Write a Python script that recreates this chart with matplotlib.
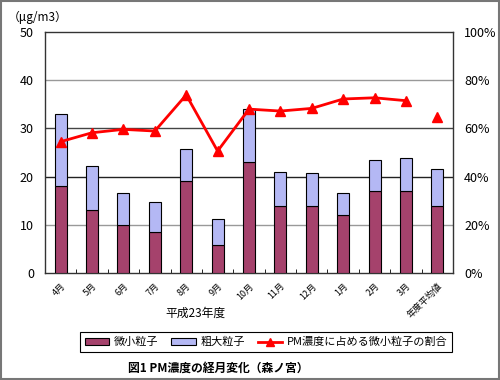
import numpy as np
import matplotlib.pyplot as plt
from matplotlib.patches import Rectangle, Patch
from matplotlib.lines import Line2D

plt.rcParams['font.family'] = ['Noto Sans CJK JP', 'DejaVu Sans']

# データ
months = ['4月', '5月', '6月', '7月', '8月', '9月', '10月', '11月', '12月',
          '1月', '2月', '3月', '年度平均値']
fine = [18.0, 13.0, 10.0, 8.6, 19.0, 5.8, 23.0, 14.0, 14.0, 12.0, 17.0, 17.0, 14.0]
total = [33.0, 22.3, 16.6, 14.7, 25.7, 11.3, 34.1, 20.9, 20.7, 16.5, 23.4, 23.9, 21.6]
ratio = [54.5, 58.2, 59.6, 58.9, 73.9, 50.6, 68.0, 67.2, 68.3, 72.2, 72.7, 71.5, 64.9]

coarse = [t - f for t, f in zip(total, fine)]
x = np.arange(len(months))

fig = plt.figure(figsize=(5, 3.8), dpi=100)
ax = fig.add_axes([0.09, 0.2816, 0.816, 0.6342])

# 棒グラフ（積み上げ）
ax.bar(x, fine, width=0.38, color='#a5426c', edgecolor='black', linewidth=0.8, zorder=3)
ax.bar(x, coarse, width=0.38, bottom=fine, color='#b4b8f4', edgecolor='black',
       linewidth=0.8, zorder=3)

ax.set_xlim(-0.5, len(months) - 0.5)
ax.set_ylim(0, 50)
ax.set_yticks(range(0, 51, 10))
for v, c in zip([10, 20, 30, 40], ['#999999', '#222222', '#444444', '#999999']):
    ax.axhline(v, color=c, linewidth=1, zorder=1)

ax.set_xticks(x)
ax.set_xticklabels(months, rotation=45, ha='right', va='top',
                   rotation_mode='anchor', fontsize=6.5)
ax.set_xticks(np.arange(-0.5, len(months), 1), minor=True)
ax.tick_params(axis='x', which='major', length=0, pad=6)
ax.tick_params(axis='x', which='minor', length=3, direction='in')
ax.tick_params(axis='y', length=0, labelsize=9, pad=8)
for s in ax.spines.values():
    s.set_color('#333333')
    s.set_linewidth(1)

# 割合（右軸）
ax2 = ax.twinx()
ax2.plot(x[:-1], ratio[:-1], color='#ff0000', linewidth=2, marker='^',
         markersize=7, zorder=4)
ax2.plot(x[-1:], ratio[-1:], color='#ff0000', linestyle='none', marker='^',
         markersize=7, zorder=4)
ax2.set_ylim(0, 100)
ax2.set_yticks(range(0, 101, 20))
ax2.set_yticklabels([f'{v}%' for v in range(0, 101, 20)])
ax2.tick_params(axis='y', length=0, labelsize=9, pad=8)
for s in ax2.spines.values():
    s.set_visible(False)

fig.text(0.015, 0.955, '（μg/m3）', fontsize=8.5, ha='left', va='center')
fig.text(0.39, 0.175, '平成23年度', fontsize=8.5, ha='center', va='center')

handles = [Patch(facecolor='#a5426c', edgecolor='black', linewidth=0.8),
           Patch(facecolor='#b4b8f4', edgecolor='black', linewidth=0.8),
           Line2D([], [], color='#ff0000', linewidth=2, marker='^', markersize=6)]
leg = fig.legend(handles, ['微小粒子', '粗大粒子', 'PM濃度に占める微小粒子の割合'],
                 loc='center', bbox_to_anchor=(0.532, 0.099), ncol=3,
                 fontsize=8, fancybox=False, edgecolor='black', framealpha=1,
                 handlelength=2.2, handleheight=0.6, columnspacing=1.2,
                 handletextpad=0.4, borderpad=0.45)
leg.get_frame().set_linewidth(0.8)

fig.text(0.436, 0.03, '図1 PM濃度の経月変化（森ノ宮）', fontsize=8.5,
         ha='center', va='center', fontweight='bold')

fig.patches.append(Rectangle((0.002, 0.003), 0.996, 0.994, transform=fig.transFigure,
                             fill=False, edgecolor='#777777', linewidth=1.5))

fig.savefig('out.png', dpi=100)
